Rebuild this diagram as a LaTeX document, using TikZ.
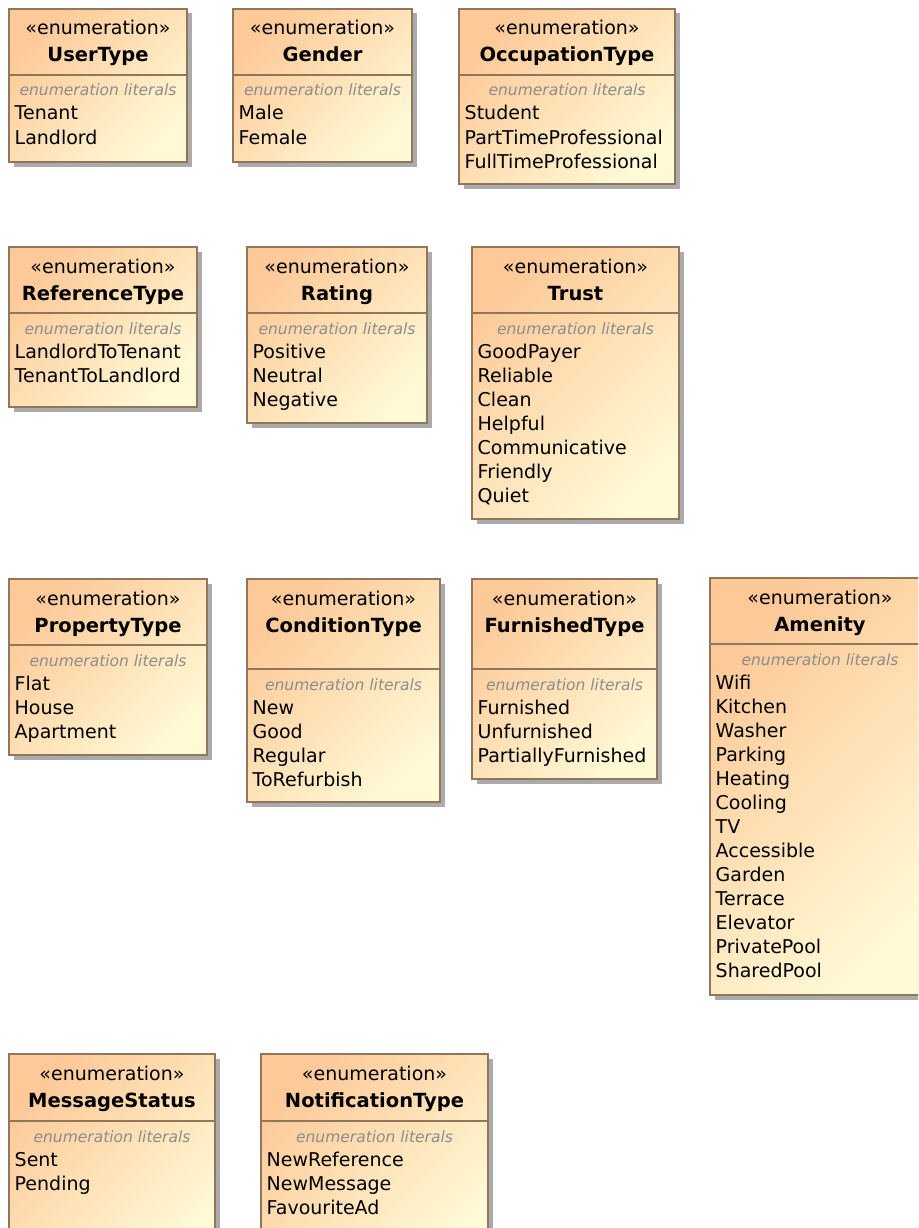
\documentclass[tikz,border=0pt]{standalone}
\usepackage{fontspec}
\setmainfont{DejaVu Sans}
\usetikzlibrary{shadows}

\definecolor{enumtop}{RGB}{253,201,152}
\definecolor{enumbottom}{RGB}{255,249,213}
\definecolor{enumline}{RGB}{145,118,92}
\definecolor{sectiongray}{RGB}{140,140,140}

\tikzset{
  enumbody/.style={draw=enumline, line width=1.4pt,
    top color=enumtop, bottom color=enumbottom, shading angle=45,
    inner sep=0pt, outer sep=0pt, anchor=north west,
    drop shadow={shadow xshift=4.5pt, shadow yshift=-4.5pt, fill=black, opacity=.33}},
  divider/.style={draw=enumline, line width=1.4pt},
  stereo/.style={font=\fontsize{19}{24}\selectfont, anchor=base, inner sep=0pt},
  enumtitle/.style={font=\fontsize{19.5}{24}\selectfont\bfseries, anchor=base, inner sep=0pt},
  section/.style={font=\fontsize{15.5}{20}\selectfont\itshape, text=sectiongray, anchor=base, inner sep=0pt},
  literal/.style={font=\fontsize{19}{24}\selectfont, anchor=base west, inner sep=0pt},
}

% \enumbox{name}{left}{top}{right}{bottom}{divider y}{title}{literals}
\newcommand\enumbox[8]{%
  \node[enumbody, minimum width={(#4-#2)*1pt}, minimum height={(#5-#3)*1pt}] (#1) at (#2,#3) {};
  \draw[divider] (#2,#6) -- (#4,#6);
  \node[stereo] (#1-stereo) at ({(#2+#4)/2}, #3+26) {«enumeration»};
  \node[enumtitle] (#1-title) at ({(#2+#4)/2}, #3+53) {#7};
  \node[section] (#1-section) at ({(#2+#4)/2}, #6+21) {enumeration literals};
  \foreach \lit [count=\i] in {#8} {
    \node[literal] (#1-lit\i) at (#2+5.5, #6+21+24*\i) {\lit};
  }%
}

\begin{document}
\begin{tikzpicture}[x=1pt, y=-1pt]
  \useasboundingbox (0,0) rectangle (918,1228);
  \clip (0,0) rectangle (918,1228);

  % first row
  \enumbox{usertype}{9}{9}{187}{162}{75}{UserType}{Tenant, Landlord}
  \enumbox{gender}{233}{9}{412}{162}{75}{Gender}{Male, Female}
  \enumbox{occupation}{459}{9}{675}{184}{75}{OccupationType}
    {Student, PartTimeProfessional, FullTimeProfessional}

  % second row
  \enumbox{reference}{9}{247}{197}{407}{313}{ReferenceType}
    {LandlordToTenant, TenantToLandlord}
  \enumbox{rating}{247}{247}{427}{423}{313}{Rating}{Positive, Neutral, Negative}
  \enumbox{trust}{472}{247}{679}{519}{313}{Trust}
    {GoodPayer, Reliable, Clean, Helpful, Communicative, Friendly, Quiet}

  % third row
  \enumbox{property}{9}{579}{207}{755}{645}{PropertyType}{Flat, House, Apartment}
  \enumbox{condition}{247}{579}{440}{802}{669}{ConditionType}
    {New, Good, Regular, ToRefurbish}
  \enumbox{furnished}{472}{579}{657}{779}{669}{FurnishedType}
    {Furnished, Unfurnished, PartiallyFurnished}
  \enumbox{amenity}{710}{578}{930}{995}{644}{Amenity}
    {Wifi, Kitchen, Washer, Parking, Heating, Cooling, TV, Accessible,
     Garden, Terrace, Elevator, PrivatePool, SharedPool}

  % fourth row
  \enumbox{message}{9}{1054}{215}{1260}{1121}{MessageStatus}{Sent, Pending}
  \enumbox{notification}{261}{1054}{488}{1260}{1121}{NotificationType}
    {NewReference, NewMessage, FavouriteAd}
\end{tikzpicture}
\end{document}
